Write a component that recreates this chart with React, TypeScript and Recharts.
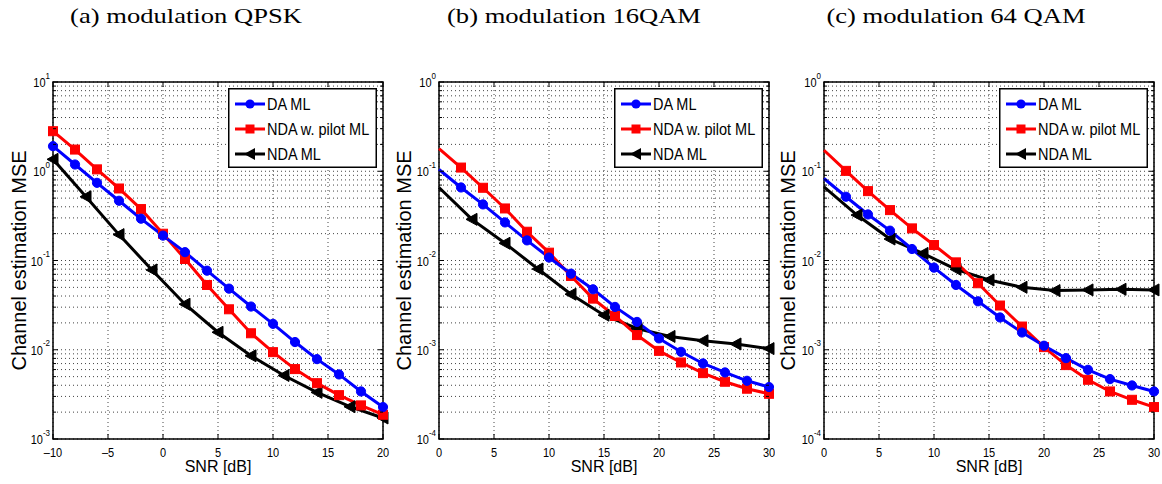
import React from 'react';
import { LineChart, Line, XAxis, YAxis, CartesianGrid, Legend, ReferenceArea } from 'recharts';

// SNR grids
const snrQpsk = [-10, -8, -6, -4, -2, 0, 2, 4, 6, 8, 10, 12, 14, 16, 18, 20];
const snrQpskNda = [-10, -7, -4, -1, 2, 5, 8, 11, 14, 17, 20];
const snrQam = [0, 2, 4, 6, 8, 10, 12, 14, 16, 18, 20, 22, 24, 26, 28, 30];
const snrQamNda = [0, 3, 6, 9, 12, 15, 18, 21, 24, 27, 30];

// (a) QPSK
const qpskDa = [1.91, 1.19, 0.742, 0.467, 0.294, 0.19, 0.124, 0.0769, 0.0484, 0.0305, 0.0195, 0.0122, 0.00785, 0.00529, 0.00341, 0.00228];
const qpskPilot = [2.81, 1.75, 1.05, 0.641, 0.377, 0.1995, 0.104, 0.0532, 0.0284, 0.0153, 0.0094, 0.00607, 0.00422, 0.0031, 0.00238, 0.00187];
const qpskNda = [1.36, 0.518, 0.195, 0.0783, 0.0324, 0.0157, 0.00855, 0.00515, 0.00333, 0.0023, 0.00172];

// (b) 16QAM
const qam16Da = [0.1046, 0.0658, 0.0425, 0.0267, 0.0168, 0.0108, 0.00712, 0.00476, 0.00302, 0.00205, 0.00134, 0.000948, 0.000702, 0.000557, 0.000449, 0.000382];
const qam16Pilot = [0.1796, 0.11, 0.0653, 0.0383, 0.021, 0.01224, 0.00671, 0.00374, 0.00239, 0.00146, 0.000972, 0.00072, 0.000547, 0.000438, 0.000366, 0.000321];
const qam16Nda = [0.0658, 0.0289, 0.0156, 0.00803, 0.00419, 0.00244, 0.00173, 0.00141, 0.00126, 0.00116, 0.00103];

// (c) 64QAM
const qam64Da = [0.083, 0.0518, 0.0328, 0.0216, 0.01345, 0.00832, 0.00532, 0.00349, 0.0023, 0.00156, 0.00111, 0.000805, 0.000596, 0.000469, 0.000398, 0.000341];
const qam64Pilot = [0.172, 0.101, 0.0599, 0.0367, 0.0229, 0.0149, 0.00953, 0.00556, 0.00313, 0.00182, 0.00107, 0.000673, 0.000461, 0.000341, 0.000275, 0.000228];
const qam64Nda = [0.067, 0.0323, 0.0174, 0.012, 0.00796, 0.00605, 0.00501, 0.0046, 0.00468, 0.00476, 0.00468];

// ticks
const xTicksQpsk = [-10, -5, 0, 5, 10, 15, 20];
const xTicksQam = [0, 5, 10, 15, 20, 25, 30];
const decadesQpsk = [1e-3, 1e-2, 1e-1, 1, 10];
const decadesQam = [1e-4, 1e-3, 1e-2, 1e-1, 1];

const legendNames = ['DA ML', 'NDA w. pilot ML', 'NDA ML'];
const titles = ['(a) modulation QPSK', '(b) modulation 16QAM', '(c) modulation 64 QAM'];

const BLUE = '#0000ff';
const RED = '#ff0000';
const BLACK = '#000000';
const SANS = '"Liberation Sans", Arial, Helvetica, sans-serif';
const SERIF = '"Liberation Serif", "Times New Roman", serif';
const PLOT_W = 330;
const PLOT_H = 357;

const toRows = (snr: number[], mse: number[]) => snr.map((s, i) => ({ snr: s, mse: mse[i] }));

const withMinors = (decades: number[]) => {
  const out: number[] = [];
  decades.forEach((d, i) => {
    out.push(d);
    if (i < decades.length - 1) for (let m = 2; m <= 9; m++) out.push(d * m);
  });
  return out;
};

const circleDot = (skipFirst: boolean) => (p: any) => {
  const { cx, cy, index } = p;
  if (skipFirst && index === 0) return <g key={`c-${index}`} />;
  return <circle key={`c-${index}`} cx={cx} cy={cy} r={4.6} fill={BLUE} stroke={BLUE} strokeWidth={1} />;
};

const squareDot = (skipFirst: boolean) => (p: any) => {
  const { cx, cy, index } = p;
  if (skipFirst && index === 0) return <g key={`s-${index}`} />;
  return <rect key={`s-${index}`} x={cx - 4.5} y={cy - 4.5} width={9} height={9} fill={RED} stroke={RED} />;
};

const triDot = (skipFirst: boolean) => (p: any) => {
  const { cx, cy, index } = p;
  if (skipFirst && index === 0) return <g key={`t-${index}`} />;
  return (
    <polygon
      key={`t-${index}`}
      points={`${cx - 6},${cy} ${cx + 5},${cy - 6} ${cx + 5},${cy + 6}`}
      fill={BLACK}
      stroke={BLACK}
    />
  );
};

const YTick = (p: any) => {
  const { x, y, payload } = p;
  const lg = Math.log10(payload.value);
  const exp = Math.round(lg);
  const major = Math.abs(lg - exp) < 1e-6;
  const len = major ? 5 : 3;
  return (
    <g>
      <line x1={x} x2={x + len} y1={y} y2={y} stroke="#000" />
      <line x1={x + PLOT_W} x2={x + PLOT_W - len} y1={y} y2={y} stroke="#000" />
      {major && (
        <text transform={`translate(${x - 3},${y + 5}) scale(1,1.2)`} textAnchor="end" fontSize={11} fontFamily={SANS} fill="#000">
          <tspan>10</tspan>
          <tspan dy={-7} fontSize={8}>{exp < 0 ? `-${-exp}` : `${exp}`}</tspan>
        </text>
      )}
    </g>
  );
};

const XTick = (p: any) => {
  const { x, y, payload } = p;
  const v = payload.value as number;
  return (
    <g>
      <line x1={x} x2={x} y1={y} y2={y - 5} stroke="#000" />
      <line x1={x} x2={x} y1={y - PLOT_H} y2={y - PLOT_H + 5} stroke="#000" />
      <text transform={`translate(${x},${y + 18}) scale(1,1.2)`} textAnchor="middle" fontSize={11} fontFamily={SANS} fill="#000">
        {v < 0 ? `\u2013${-v}` : `${v}`}
      </text>
    </g>
  );
};

const renderLegend = () => (
  <svg width={149} height={80} style={{ display: 'block' }}>
    <rect x={0.75} y={0.75} width={147.5} height={78.5} fill="#fff" stroke="#000" strokeWidth={1.5} />
    {legendNames.map((name, i) => {
      const y = 16 + 25 * i;
      const color = [BLUE, RED, BLACK][i];
      return (
        <g key={name}>
          <line x1={7} x2={37} y1={y} y2={y} stroke={color} strokeWidth={3} />
          {i === 0 && <circle cx={22} cy={y} r={4.6} fill={BLUE} />}
          {i === 1 && <rect x={17.5} y={y - 4.5} width={9} height={9} fill={RED} />}
          {i === 2 && <polygon points={`${16},${y} ${27},${y - 6} ${27},${y + 6}`} fill={BLACK} />}
          <text transform={`translate(39,${y + 6}) scale(1,1.15)`} fontSize={14.5} fontFamily={SANS} fill="#000">{name}</text>
        </g>
      );
    })}
  </svg>
);

interface PanelProps {
  left: number;
  yWidth: number;
  rightMargin: number;
  labelOffset: number;
  xTicks: number[];
  decades: number[];
  snr: number[];
  snrNda: number[];
  da: number[];
  pilot: number[];
  nda: number[];
  skipFirst: boolean;
}

const Panel = ({ left, yWidth, rightMargin, labelOffset, xTicks, decades, snr, snrNda, da, pilot, nda, skipFirst }: PanelProps) => {
  const xMin = xTicks[0];
  const xMax = xTicks[xTicks.length - 1];
  const yMin = decades[0];
  const yMax = decades[decades.length - 1];
  const width = yWidth + PLOT_W + rightMargin;
  return (
    <div style={{ position: 'absolute', left, top: 60 }}>
      <LineChart width={width} height={424} margin={{ top: 22, right: rightMargin, bottom: 0, left: 0 }}>
        <CartesianGrid stroke="#444" strokeDasharray="1 3" strokeWidth={1} />
        <XAxis
          dataKey="snr"
          type="number"
          domain={[xMin, xMax]}
          ticks={xTicks}
          interval={0}
          height={45}
          tickSize={0}
          tickMargin={0}
          tickLine={false}
          axisLine={false}
          tick={(p: any) => <XTick {...p} />}
          label={{
            value: 'SNR [dB]',
            position: 'insideBottom',
            offset: 12,
            fill: '#000',
            style: { fontSize: 16, fontFamily: SANS },
          }}
        />
        <YAxis
          type="number"
          scale="log"
          domain={[yMin, yMax]}
          ticks={withMinors(decades)}
          interval={0}
          width={yWidth}
          tickSize={0}
          tickMargin={0}
          tickLine={false}
          axisLine={false}
          tick={(p: any) => <YTick {...p} />}
          label={{
            value: 'Channel estimation MSE',
            angle: -90,
            position: 'insideLeft',
            offset: labelOffset,
            fill: '#000',
            style: { textAnchor: 'middle', fontSize: 20, fontFamily: SANS },
          }}
        />
        <ReferenceArea x1={xMin} x2={xMax} y1={yMin} y2={yMax} fill="none" stroke="#000" strokeWidth={1.5} />
        <Line data={toRows(snrNda, nda)} dataKey="mse" name="NDA ML" stroke={BLACK} strokeWidth={3} dot={triDot(skipFirst)} activeDot={false} isAnimationActive={false} />
        <Line data={toRows(snr, pilot)} dataKey="mse" name="NDA w. pilot ML" stroke={RED} strokeWidth={3} dot={squareDot(skipFirst)} activeDot={false} isAnimationActive={false} />
        <Line data={toRows(snr, da)} dataKey="mse" name="DA ML" stroke={BLUE} strokeWidth={3} dot={circleDot(skipFirst)} activeDot={false} isAnimationActive={false} />
        <Legend
          layout="vertical"
          align="center"
          verticalAlign="middle"
          content={renderLegend}
          wrapperStyle={{ left: yWidth + PLOT_W - 155, top: 28, width: 149, height: 80 }}
        />
      </LineChart>
    </div>
  );
};

export default function App() {
  return (
    <div style={{ position: 'absolute', left: 0, top: 0, width: 1162, height: 484, background: '#fff', overflow: 'hidden' }}>
      <svg width={1162} height={40} style={{ position: 'absolute', left: 0, top: 0 }}>
        {titles.map((t, i) => (
          <text
            key={t}
            transform={`translate(${[186, 574, 956][i]},23) scale(1.33,1)`}
            textAnchor="middle"
            fontSize={20}
            fontFamily={SERIF}
            fill="#000"
          >
            {t}
          </text>
        ))}
      </svg>
      <Panel left={0} yWidth={53} rightMargin={7} labelOffset={18.5} xTicks={xTicksQpsk} decades={decadesQpsk}
        snr={snrQpsk} snrNda={snrQpskNda} da={qpskDa} pilot={qpskPilot} nda={qpskNda} skipFirst={false} />
      <Panel left={390} yWidth={49} rightMargin={6} labelOffset={13.5} xTicks={xTicksQam} decades={decadesQam}
        snr={snrQam} snrNda={snrQamNda} da={qam16Da} pilot={qam16Pilot} nda={qam16Nda} skipFirst={true} />
      <Panel left={775} yWidth={49} rightMargin={8} labelOffset={13} xTicks={xTicksQam} decades={decadesQam}
        snr={snrQam} snrNda={snrQamNda} da={qam64Da} pilot={qam64Pilot} nda={qam64Nda} skipFirst={true} />
    </div>
  );
}
